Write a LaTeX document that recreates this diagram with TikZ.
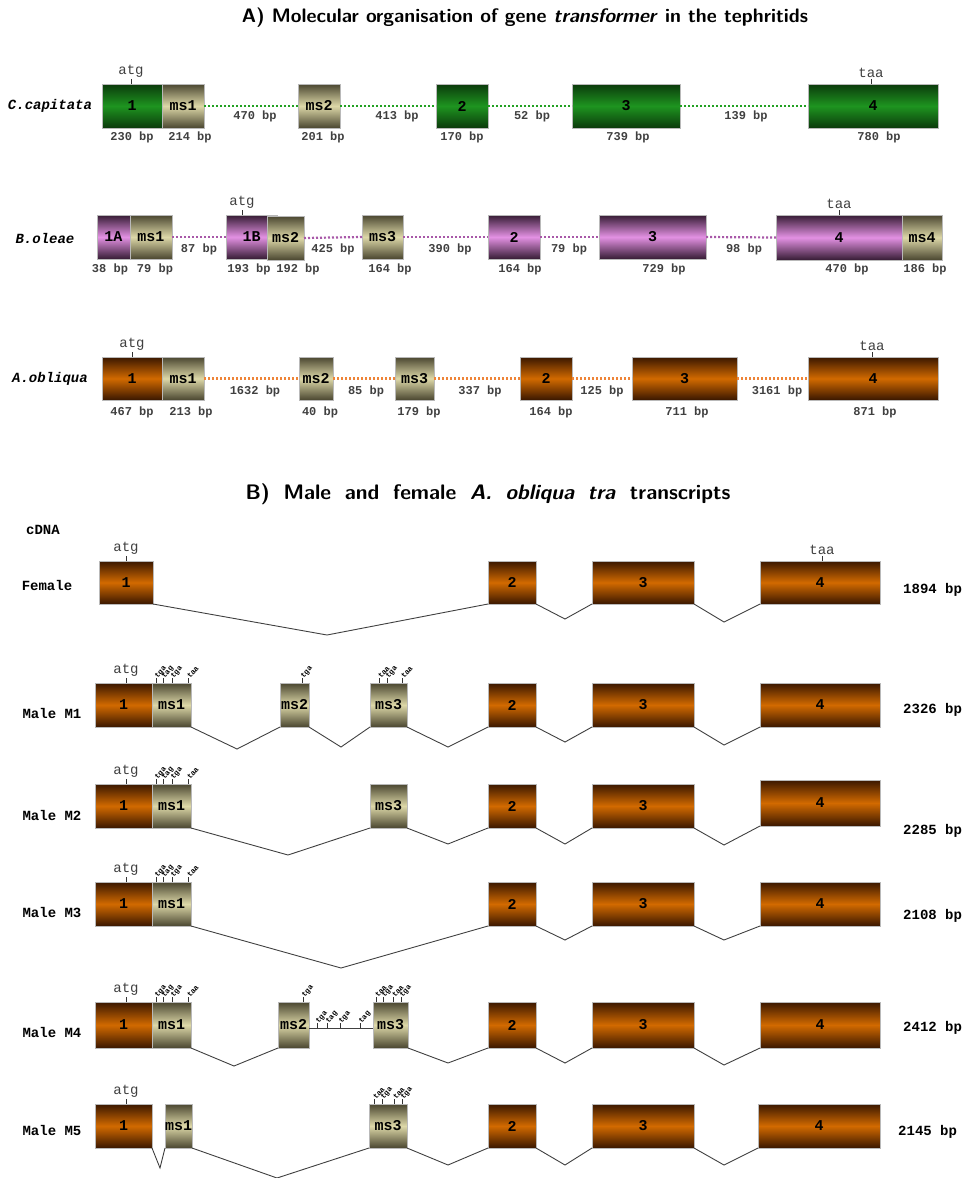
\documentclass[tikz,border=0pt]{standalone}
\usepackage{fontspec}
\setmainfont{Liberation Sans}
\setmonofont{Liberation Mono}
\usetikzlibrary{calc}

\definecolor{grnD}{HTML}{0B3A0B}
\definecolor{grnL}{HTML}{1E9420}
\definecolor{tanD}{HTML}{4A4630}
\definecolor{tanL}{HTML}{DDD8A8}
\definecolor{purD}{HTML}{361C34}
\definecolor{purL}{HTML}{E391E3}
\definecolor{orgD}{HTML}{3A1700}
\definecolor{orgL}{HTML}{D26A00}
\definecolor{lbl}{HTML}{404040}
\definecolor{gdotc}{HTML}{22A022}
\definecolor{pdotc}{HTML}{A858A8}
\definecolor{odotc}{HTML}{EE8438}

\tikzset{
  box/.style={draw=gray!55,line width=0.5pt,inner sep=0pt,outer sep=0pt,anchor=north west,
    font=\ttfamily\bfseries\fontsize{15}{15}\selectfont},
  grn/.style={box,top color=grnD,bottom color=grnD,middle color=grnL},
  tan/.style={box,top color=tanD,bottom color=tanD,middle color=tanL},
  pur/.style={box,top color=purD,bottom color=purD,middle color=purL},
  org/.style={box,top color=orgD,bottom color=orgD,middle color=orgL},
  ttl/.style={font=\sffamily\bfseries\fontsize{19.5}{21}\selectfont,inner sep=0pt},
  sp/.style={font=\ttfamily\bfseries\itshape\fontsize{14}{14}\selectfont,inner sep=0pt},
  rw/.style={font=\ttfamily\bfseries\fontsize{14}{14}\selectfont,inner sep=0pt},
  bp/.style={font=\ttfamily\bfseries\fontsize{12}{12}\selectfont,text=lbl,inner sep=0pt},
  cod/.style={font=\ttfamily\fontsize{14}{14}\selectfont,text=lbl,inner sep=1pt,anchor=south},
  stp/.style={font=\ttfamily\bfseries\fontsize{7.5}{8}\selectfont,inner sep=0.5pt,rotate=50,anchor=west},
  tk/.style={line width=0.7pt,draw=black!80},
  gdot/.style={draw=gdotc,line width=2.2pt,dash pattern=on 2pt off 2pt},
  pdot/.style={draw=pdotc,line width=2.2pt,dash pattern=on 2pt off 2pt},
  odot/.style={draw=odotc,line width=2.2pt,dash pattern=on 2pt off 2pt},
  spl/.style={draw=black!75,line width=0.9pt},
}
% exon: style, name, x, top, width, height, text
\newcommand{\exon}[7]{\node[#1,minimum width=#5pt,minimum height=#6pt] (#2) at (#3,#4) {#7};}
% stop codons: top of box, list x/codon
\newcommand{\stops}[2]{\foreach \sx/\sl in {#2}
  {\draw[tk] (\sx,#1) -- ++(0,-5) node[stp] (stp-\sx-#1) {\sl};}}

\begin{document}
\begin{tikzpicture}[x=1pt,y=-1pt]
\useasboundingbox (0,0) rectangle (962,1178);

% ---------- A) genes
\node[ttl] (TA) at (525,18) {A) Molecular organisation of gene \textit{transformer} in the tephritids};

% C. capitata
\node[sp] (Cc) at (50,106) {C.capitata};
\exon{grn}{Cc1}{102}{84}{60}{44}{1}
\exon{tan}{Ccms1}{162}{84}{42}{44}{ms1}
\exon{tan}{Ccms2}{298}{84}{42}{44}{ms2}
\exon{grn}{Cc2}{436}{84}{52}{44}{2}
\exon{grn}{Cc3}{572}{84}{108}{44}{3}
\exon{grn}{Cc4}{808}{84}{130}{44}{4}
\draw[gdot] (Ccms1.east) -- (Ccms2.west);
\draw[gdot] (Ccms2.east) -- (Cc2.west);
\draw[gdot] (Cc2.east) -- (Cc3.west);
\draw[gdot] (Cc3.east) -- (Cc4.west);
\foreach \x/\t [count=\i] in {255/470,397/413,532/52,746/139}
  \node[bp] (Ccg\i) at (\x,116) {\t{} bp};
\foreach \x/\t [count=\i] in {132/230,190/214,323/201,462/170,628/739,879/780}
  \node[bp] (Ccs\i) at (\x,137) {\t{} bp};
\draw[tk] (131,84) -- (131,79) node[cod] (Ccatg) {atg};
\draw[tk] (871,84) -- (871,79) node[cod] (Cctaa) {taa};

% B. oleae
\node[sp] (Bo) at (45,238) {B.oleae};
\exon{pur}{Bo1A}{97}{215}{33}{44}{1A}
\exon{tan}{Boms1}{130}{215}{42}{44}{ms1}
\exon{pur}{Bo1B}{226}{215}{51}{44}{1B\hspace{10pt}}
\exon{tan}{Boms2}{267}{216}{37}{44}{ms2}
\exon{tan}{Boms3}{362}{215}{41}{44}{ms3}
\exon{pur}{Bo2}{488}{215}{52}{44}{2}
\exon{pur}{Bo3}{599}{215}{107}{44}{3}
\exon{pur}{Bo4}{776}{215}{126}{45}{4}
\exon{tan}{Boms4}{902}{215}{40}{45}{ms4}
\draw[pdot] (Boms1.east) -- (Bo1B.west);
\draw[pdot] (Boms2.east) -- (Boms3.west);
\draw[pdot] (Boms3.east) -- (Bo2.west);
\draw[pdot] (Bo2.east) -- (Bo3.west);
\draw[pdot] (Bo3.east) -- (Bo4.west);
\foreach \x/\t [count=\i] in {199/87,333/425,450/390,569/79,744/98}
  \node[bp] (Bog\i) at (\x,249) {\t{} bp};
\foreach \x/\t [count=\i] in {110/38,155/79,249/193,298/192,390/164,520/164,664/729,847/470,925/186}
  \node[bp] (Bos\i) at (\x,269) {\t{} bp};
\draw[tk] (242,215) -- (242,210) node[cod] (Boatg) {atg};
\draw[tk] (839,215) -- (839,210) node[cod] (Botaa) {taa};

% A. obliqua
\node[sp] (Ao) at (50,379) {A.obliqua};
\exon{org}{Ao1}{102}{357}{60}{43}{1}
\exon{tan}{Aoms1}{162}{357}{42}{43}{ms1}
\exon{tan}{Aoms2}{299}{357}{34}{43}{ms2}
\exon{tan}{Aoms3}{395}{357}{39}{43}{ms3}
\exon{org}{Ao2}{520}{357}{52}{43}{2}
\exon{org}{Ao3}{632}{357}{105}{43}{3}
\exon{org}{Ao4}{808}{357}{130}{43}{4}
\draw[odot] (Aoms1.east) -- (Aoms2.west);
\draw[odot] (Aoms2.east) -- (Aoms3.west);
\draw[odot] (Aoms3.east) -- (Ao2.west);
\draw[odot] (Ao2.east) -- (Ao3.west);
\draw[odot] (Ao3.east) -- (Ao4.west);
\foreach \x/\t [count=\i] in {255/1632,366/85,480/337,602/125,777/3161}
  \node[bp] (Aog\i) at (\x,391) {\t{} bp};
\foreach \x/\t [count=\i] in {132/467,191/213,320/40,419/179,551/164,687/711,875/871}
  \node[bp] (Aos\i) at (\x,412) {\t{} bp};
\draw[tk] (132,357) -- (132,352) node[cod] (Aoatg) {atg};
\draw[tk] (872,357) -- (872,352) node[cod] (Aotaa) {taa};

% ---------- B) transcripts
\node[ttl,font=\sffamily\bfseries\fontsize{21}{22}\selectfont] (TB) at (488,494)
  {\makebox[485pt][s]{B) Male and female \textit{A. obliqua tra} transcripts}};
\node[rw] (cdna) at (43,530) {cDNA};

% Female
\node[rw] (F) at (47,585) {Female};
\exon{org}{F1}{99}{561}{54}{43}{1}
\exon{org}{F2}{488}{561}{48}{43}{2}
\exon{org}{F3}{592}{561}{102}{43}{3}
\exon{org}{F4}{760}{561}{120}{43}{4}
\coordinate (Fv1) at (327,635);
\coordinate (Fv2) at (565,619);
\coordinate (Fv3) at (724,622);
\draw[spl] (F1.south east) -- (Fv1) -- (F2.south west);
\draw[spl] (F2.south east) -- (Fv2) -- (F3.south west);
\draw[spl] (F3.south east) -- (Fv3) -- (F4.south west);
\draw[tk] (126,561) -- (126,556) node[cod] (Fatg) {atg};
\draw[tk] (822,561) -- (822,556) node[cod] (Ftaa) {taa};
\node[rw,anchor=west] (Fbp) at (903,590) {1894 bp};

% Male M1
\node[rw] (M1) at (52,713) {Male M1};
\exon{org}{Ma1}{95}{683}{57}{44}{1}
\exon{tan}{Mams1}{152}{683}{39}{44}{ms1}
\exon{tan}{Mams2}{280}{683}{29}{44}{ms2}
\exon{tan}{Mams3}{370}{683}{37}{44}{ms3}
\exon{org}{Ma2}{488}{683}{48}{44}{2}
\exon{org}{Ma3}{592}{683}{102}{44}{3}
\exon{org}{Ma4}{760}{683}{120}{44}{4}
\coordinate (Mav1) at (237,749);
\coordinate (Mav2) at (341,747);
\coordinate (Mav3) at (448,747);
\coordinate (Mav4) at (565,742);
\coordinate (Mav5) at (724,745);
\draw[spl] (Mams1.south east) -- (Mav1) -- (Mams2.south west);
\draw[spl] (Mams2.south east) -- (Mav2) -- (Mams3.south west);
\draw[spl] (Mams3.south east) -- (Mav3) -- (Ma2.south west);
\draw[spl] (Ma2.south east) -- (Mav4) -- (Ma3.south west);
\draw[spl] (Ma3.south east) -- (Mav5) -- (Ma4.south west);
\draw[tk] (126,683) -- (126,678) node[cod] (Maatg) {atg};
\stops{683}{156/tga,163/tag,172/tga,188/taa}
\stops{683}{302/tga}
\stops{683}{379/taa,387/tga,402/taa}
\node[rw,anchor=west] (Mabp) at (903,710) {2326 bp};

% Male M2
\node[rw] (M2) at (52,815) {Male M2};
\exon{org}{Mb1}{95}{784}{57}{44}{1}
\exon{tan}{Mbms1}{152}{784}{39}{44}{ms1}
\exon{tan}{Mbms3}{370}{784}{37}{44}{ms3}
\exon{org}{Mb2}{488}{784}{48}{44}{2}
\exon{org}{Mb3}{592}{784}{102}{44}{3}
\exon{org}{Mb4}{760}{780}{120}{46}{4}
\coordinate (Mbv1) at (288,855);
\coordinate (Mbv2) at (448,844);
\coordinate (Mbv3) at (565,844);
\coordinate (Mbv4) at (724,845);
\draw[spl] (Mbms1.south east) -- (Mbv1) -- (Mbms3.south west);
\draw[spl] (Mbms3.south east) -- (Mbv2) -- (Mb2.south west);
\draw[spl] (Mb2.south east) -- (Mbv3) -- (Mb3.south west);
\draw[spl] (Mb3.south east) -- (Mbv4) -- (Mb4.south west);
\draw[tk] (126,784) -- (126,779) node[cod] (Mbatg) {atg};
\stops{784}{156/tga,163/tag,172/tga,188/taa}
\node[rw,anchor=west] (Mbbp) at (903,831) {2285 bp};

% Male M3
\node[rw] (M3) at (52,912) {Male M3};
\exon{org}{Mc1}{95}{882}{57}{44}{1}
\exon{tan}{Mcms1}{152}{882}{39}{44}{ms1}
\exon{org}{Mc2}{488}{882}{48}{44}{2}
\exon{org}{Mc3}{592}{882}{102}{44}{3}
\exon{org}{Mc4}{760}{882}{120}{44}{4}
\coordinate (Mcv1) at (341,968);
\coordinate (Mcv2) at (565,940);
\coordinate (Mcv3) at (724,940);
\draw[spl] (Mcms1.south east) -- (Mcv1) -- (Mc2.south west);
\draw[spl] (Mc2.south east) -- (Mcv2) -- (Mc3.south west);
\draw[spl] (Mc3.south east) -- (Mcv3) -- (Mc4.south west);
\draw[tk] (126,882) -- (126,877) node[cod] (Mcatg) {atg};
\stops{882}{156/tga,163/tag,172/tga,188/taa}
\node[rw,anchor=west] (Mcbp) at (903,916) {2108 bp};

% Male M4
\node[rw] (M4) at (52,1032) {Male M4};
\exon{org}{Md1}{95}{1002}{57}{46}{1}
\exon{tan}{Mdms1}{152}{1002}{39}{46}{ms1}
\exon{tan}{Mdms2}{278}{1002}{31}{46}{ms2}
\exon{tan}{Mdms3}{373}{1002}{35}{46}{ms3}
\exon{org}{Md2}{488}{1002}{48}{46}{2}
\exon{org}{Md3}{592}{1002}{102}{46}{3}
\exon{org}{Md4}{760}{1002}{120}{46}{4}
\coordinate (Mdv1) at (234,1066);
\coordinate (Mdv2) at (448,1063);
\coordinate (Mdv3) at (565,1063);
\coordinate (Mdv4) at (724,1065);
\draw[spl] (Mdms1.south east) -- (Mdv1) -- (Mdms2.south west);
\draw[spl] ([yshift=-3pt]Mdms2.east) -- ([yshift=-3pt]Mdms3.west);
\draw[spl] (Mdms3.south east) -- (Mdv2) -- (Md2.south west);
\draw[spl] (Md2.south east) -- (Mdv3) -- (Md3.south west);
\draw[spl] (Md3.south east) -- (Mdv4) -- (Md4.south west);
\draw[tk] (126,1002) -- (126,997) node[cod] (Mdatg) {atg};
\stops{1002}{156/tga,163/tag,172/tga,188/taa}
\stops{1002}{303/tga}
\stops{1028}{317/tga,327/tag,340/tga,360/tag}
\stops{1002}{376/taa,383/tga,393/taa,401/tga}
\node[rw,anchor=west] (Mdbp) at (903,1028) {2412 bp};

% Male M5
\node[rw] (M5) at (52,1130) {Male M5};
\exon{org}{Me1}{95}{1104}{57}{44}{1}
\exon{tan}{Mems1}{165}{1104}{26}{44}{ms1}
\exon{tan}{Mems3}{369}{1104}{38}{44}{ms3}
\exon{org}{Me2}{488}{1104}{48}{44}{2}
\exon{org}{Me3}{592}{1104}{102}{44}{3}
\exon{org}{Me4}{758}{1104}{122}{44}{4}
\coordinate (Mev1) at (160,1168);
\coordinate (Mev2) at (277,1178);
\coordinate (Mev3) at (448,1165);
\coordinate (Mev4) at (565,1165);
\coordinate (Mev5) at (724,1165);
\draw[spl] (Me1.south east) -- (Mev1) -- (Mems1.south west);
\draw[spl] (Mems1.south east) -- (Mev2) -- (Mems3.south west);
\draw[spl] (Mems3.south east) -- (Mev3) -- (Me2.south west);
\draw[spl] (Me2.south east) -- (Mev4) -- (Me3.south west);
\draw[spl] (Me3.south east) -- (Mev5) -- (Me4.south west);
\draw[tk] (126,1104) -- (126,1099) node[cod] (Meatg) {atg};
\stops{1104}{374/taa,382/tga,394/taa,402/tga}
\node[rw,anchor=west] (Mebp) at (898,1132) {2145 bp};
\end{tikzpicture}
\end{document}
